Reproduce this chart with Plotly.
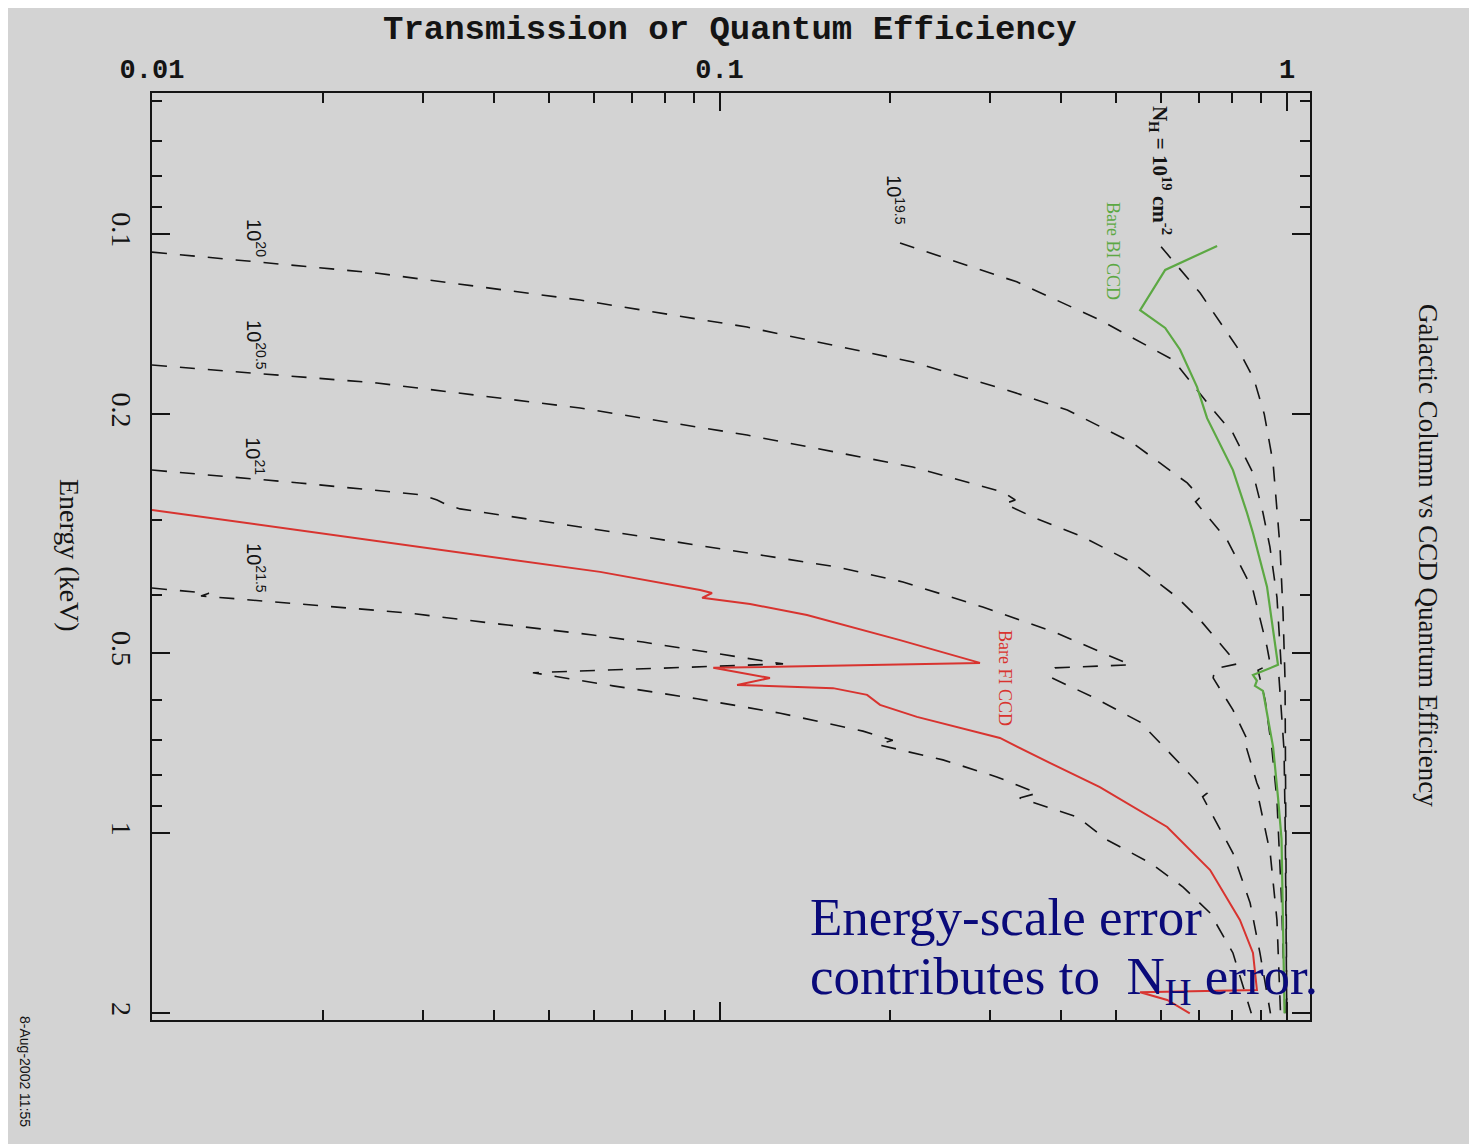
import plotly.graph_objects as go

# ---- data: (energy keV, transmission) ----
E_19 = [0.105, 0.1255, 0.1543, 0.175, 0.2, 0.241, 0.333, 0.429, 0.555, 1.0, 2.0]
T_19 = [0.60, 0.703, 0.816, 0.875, 0.912, 0.945, 0.972, 0.984, 0.992, 0.996, 0.999]

E_195 = [0.1035, 0.1202, 0.1392, 0.1623, 0.1967, 0.215, 0.2506, 0.292, 0.333, 0.404, 0.489, 0.522, 0.535, 0.727, 1.0, 2.0]
T_195 = [0.208, 0.334, 0.468, 0.630, 0.741, 0.803, 0.871, 0.907, 0.933, 0.960, 0.972, 0.976, 0.966, 0.988, 0.993, 0.999]

E_20 = [0.1072, 0.1162, 0.1289, 0.143, 0.1636, 0.182, 0.1967, 0.2234, 0.2604, 0.275, 0.280, 0.324, 0.393, 0.489, 0.522, 0.535, 0.600, 0.727, 0.881, 1.294, 2.0]
T_20 = [0.01, 0.0248, 0.0568, 0.1118, 0.219, 0.320, 0.410, 0.535, 0.667, 0.703, 0.690, 0.784, 0.871, 0.922, 0.934, 0.889, 0.915, 0.941, 0.960, 0.978, 0.992]

E_205 = [0.1655, 0.1773, 0.1952, 0.2166, 0.2449, 0.2696, 0.278, 0.282, 0.297, 0.3205, 0.354, 0.404, 0.441, 0.522, 0.532, 0.551, 0.623, 0.705, 0.712, 0.825, 0.858, 0.87, 1.08, 1.397, 2.0]
T_205 = [0.01, 0.0249, 0.0568, 0.1118, 0.219, 0.316, 0.332, 0.318, 0.357, 0.437, 0.535, 0.640, 0.703, 0.817, 0.746, 0.741, 0.803, 0.855, 0.845, 0.885, 0.90, 0.89, 0.934, 0.960, 0.974]

E_21 = [0.2478, 0.2604, 0.2727, 0.278, 0.2834, 0.2877, 0.3096, 0.3596, 0.381, 0.4195, 0.4637, 0.524, 0.530, 0.549, 0.593, 0.653, 0.776, 0.858, 0.87, 1.08, 1.309, 1.586, 2.0]
T_21 = [0.01, 0.0182, 0.030, 0.0318, 0.0331, 0.0349, 0.0584, 0.161, 0.2105, 0.291, 0.393, 0.53, 0.390, 0.382, 0.455, 0.551, 0.656, 0.723, 0.71, 0.803, 0.861, 0.896, 0.935]

E_215 = [0.390, 0.398, 0.402, 0.429, 0.448, 0.467, 0.480, 0.522, 0.540, 0.568, 0.597, 0.631, 0.676, 0.700, 0.712, 0.755, 0.806, 0.858, 0.874, 0.940, 1.027, 1.122, 1.231, 1.360, 1.586, 2.0]
T_215 = [0.01, 0.0126, 0.0122, 0.0281, 0.041, 0.0598, 0.0733, 0.1294, 0.0469, 0.0649, 0.0913, 0.128, 0.179, 0.202, 0.19, 0.2476, 0.308, 0.363, 0.338, 0.427, 0.482, 0.574, 0.656, 0.732, 0.803, 0.865]

E_FI = [0.2889, 0.3255, 0.3665, 0.3928, 0.3975, 0.405, 0.4147, 0.4325, 0.4764, 0.520, 0.530, 0.551, 0.566, 0.573, 0.588, 0.611, 0.640, 0.694, 0.764, 0.838, 0.94, 0.977, 1.153, 1.397, 1.586, 1.828, 1.845, 1.90, 2.0]
T_FI = [0.01, 0.0248, 0.0616, 0.0924, 0.097, 0.0932, 0.1132, 0.1426, 0.208, 0.2877, 0.0975, 0.1227, 0.1074, 0.1585, 0.182, 0.1918, 0.2228, 0.312, 0.382, 0.468, 0.574, 0.615, 0.732, 0.826, 0.871, 0.885, 0.551, 0.615, 0.674]

E_BI = [0.1047, 0.1148, 0.134, 0.1435, 0.156, 0.180, 0.203, 0.2478, 0.292, 0.3157, 0.388, 0.489, 0.524, 0.545, 0.557, 0.568, 0.579, 0.631, 0.718, 0.871, 1.023, 2.0]
T_BI = [0.753, 0.610, 0.551, 0.610, 0.648, 0.694, 0.723, 0.803, 0.850, 0.871, 0.922, 0.953, 0.964, 0.871, 0.885, 0.878, 0.907, 0.922, 0.945, 0.964, 0.978, 0.99]

x_tickvals = [0.01, 0.1, 1]
x_ticktext = ["0.01", "0.1", "1"]
x_minor = [0.02, 0.03, 0.04, 0.05, 0.06, 0.07, 0.08, 0.09, 0.2, 0.3, 0.4, 0.5, 0.6, 0.7, 0.8, 0.9]
y_tickvals = [0.1, 0.2, 0.5, 1, 2]
y_ticktext = ["0.1", "0.2", "0.5", "1", "2"]
y_minor = [0.06, 0.07, 0.08, 0.09, 0.3, 0.4, 0.6, 0.7, 0.8, 0.9]

BG = "#d3d3d3"
INK = "#141414"

fig = go.Figure()
dash_line = dict(color=INK, width=1.6, dash="15px,13px")
for E, T in [(E_19, T_19), (E_195, T_195), (E_20, T_20), (E_205, T_205), (E_21, T_21), (E_215, T_215)]:
    fig.add_trace(go.Scatter(x=T, y=E, mode="lines", line=dash_line, showlegend=False, hoverinfo="skip"))
fig.add_trace(go.Scatter(x=T_FI, y=E_FI, mode="lines", line=dict(color="#d8332f", width=2), showlegend=False))
fig.add_trace(go.Scatter(x=T_BI, y=E_BI, mode="lines", line=dict(color="#5ca843", width=2.2), showlegend=False))

fig.update_xaxes(
    type="log", side="top", range=[-2, 0.0405],
    tickmode="array", tickvals=x_tickvals, ticktext=["<b>" + t + "</b>" for t in x_ticktext],
    ticks="inside", ticklen=18, tickwidth=1.5, tickcolor=INK,
    showline=True, linecolor=INK, linewidth=2, mirror="allticks",
    showgrid=False, zeroline=False,
    minor=dict(tickmode="array", tickvals=x_minor, ticks="inside", ticklen=10, tickwidth=1.5, tickcolor=INK, showgrid=False),
    tickfont=dict(family="Liberation Mono", size=27, color=INK),
    ticklabelstandoff=2,
)
fig.update_yaxes(
    type="log", range=[0.3122, -1.2354],
    tickmode="array", tickvals=y_tickvals, ticktext=y_ticktext, tickangle=90,
    ticks="inside", ticklen=18, tickwidth=1.5, tickcolor=INK,
    showline=True, linecolor=INK, linewidth=2, mirror="allticks",
    showgrid=False, zeroline=False,
    minor=dict(tickmode="array", tickvals=y_minor, ticks="inside", ticklen=10, tickwidth=1.5, tickcolor=INK, showgrid=False),
    tickfont=dict(family="Liberation Serif", size=28, color=INK),
    ticklabelstandoff=4,
)

def ann(x, y, text, size, family="Liberation Serif", color=INK, angle=0, xanchor="center", yanchor="middle"):
    fig.add_annotation(x=x, y=y, xref="paper", yref="paper", text=text, showarrow=False,
                       textangle=angle, xanchor=xanchor, yanchor=yanchor,
                       font=dict(family=family, size=size, color=color))

ann(0.499, 1.068, "<b>Transmission or Quantum Efficiency</b>", 34, family="Liberation Mono")
ann(-0.0708, 0.5016, "Energy (keV)", 28, angle=90)
ann(1.1019, 0.5016, "Galactic Column vs CCD Quantum Efficiency", 27, angle=90)
ann(-0.1097, -0.0561, "8-Aug-2002 11:55", 14, family="Liberation Sans", angle=90)
ann(0.8705, 0.917, "<b>N<sub>H</sub> = 10<sup>19</sup> cm<sup>-2</sup></b>", 21, angle=90)
ann(0.6416, 0.8846, "10<sup>19.5</sup>", 20, family="Liberation Sans", angle=90)
ann(0.0897, 0.8436, "10<sup>20</sup>", 20, family="Liberation Sans", angle=90)
ann(0.0897, 0.7282, "10<sup>20.5</sup>", 20, family="Liberation Sans", angle=90)
ann(0.0897, 0.6084, "10<sup>21</sup>", 20, family="Liberation Sans", angle=90)
ann(0.0897, 0.4876, "10<sup>21.5</sup>", 20, family="Liberation Sans", angle=90)
ann(0.8299, 0.8295, "Bare BI CCD", 18, color="#5ca843", angle=90)
ann(0.7366, 0.3689, "Bare FI CCD", 18, color="#d8332f", angle=90)
ann(0.5665, 0.1111, "Energy-scale error", 53, color="#0a0a7a", xanchor="left")
ann(0.5665, 0.0431, "contributes to\u00a0\u00a0N<sub>H</sub> error.", 53, color="#0a0a7a", xanchor="left")

fig.update_layout(
    width=1469, height=1136, autosize=False,
    margin=dict(l=144, r=167, t=85, b=124),
    paper_bgcolor=BG, plot_bgcolor=BG,
    showlegend=False,
)
fig.write_html("out.html")
